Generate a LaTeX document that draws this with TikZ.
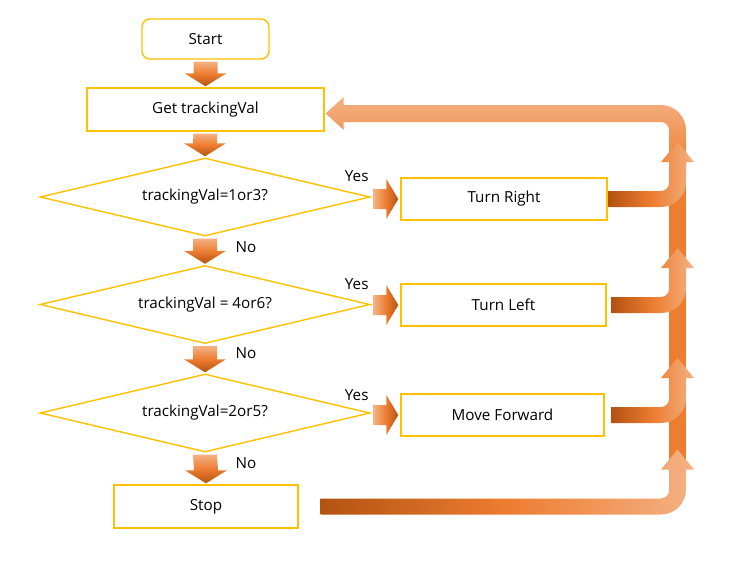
\documentclass[tikz,border=0pt]{standalone}
\usepackage{fontspec}
\setmainfont{Open Sans}
\usetikzlibrary{shapes.geometric,calc,positioning}

\definecolor{boxGold}{HTML}{FFC000}
\definecolor{orDark}{HTML}{B35311}
\definecolor{orMid}{HTML}{ED7D31}
\definecolor{orLight}{HTML}{F4B183}

\tikzset{
  flowbox/.style={draw=boxGold, line width=1.2pt, inner sep=0pt, font=\fontsize{13}{15}\selectfont},
  decision/.style={diamond, aspect=4.23, draw=boxGold, line width=1.2pt, inner sep=0pt, minimum width=9.9cm, minimum height=2.34cm, font=\fontsize{13}{15}\selectfont},
  answer/.style={inner sep=0pt, font=\fontsize{13}{15}\selectfont},
  downfill/.style={top color=orLight, bottom color=orDark, middle color=orMid},
  rightfill/.style={left color=orLight, right color=orDark, middle color=orMid},
  backfill/.style={left color=orDark, right color=orLight, middle color=orMid},
  loopfill/.style={top color=orLight, bottom color=orMid},
}

% block arrow going down, from node to node
\newcommand{\flowdown}[2]{%
  \shade[downfill] ($(#1.south)+(-12,2)$) -- ($(#1.south)+(12,2)$)
    -- ($(#2.north)+(12,-14)$) -- ($(#2.north)+(21,-14)$)
    -- ($(#2.north)+(0,-1)$) -- ($(#2.north)+(-21,-14)$)
    -- ($(#2.north)+(-12,-14)$) -- cycle;}

% block arrow going right, from node to node
\newcommand{\flowright}[2]{%
  \shade[rightfill] ($(#2.west -| #1.east)+(3,-10)$) -- ($(#2.west)+(-14,-10)$)
    -- ($(#2.west)+(-14,-20)$) -- ($(#2.west)+(-2,0)$)
    -- ($(#2.west)+(-14,20)$) -- ($(#2.west)+(-14,10)$)
    -- ($(#2.west -| #1.east)+(3,10)$) -- cycle;}

% bent arrow from a node into the trunk
\newcommand{\feedback}[2]{%
  \shade[backfill] ($(#1.east)+(#2,-8)$)
    -- ($(#1.east -| trunk)+(-16.5,-8)$) .. controls ($(#1.east -| trunk)+(-12.1,-8)$) and ($(#1.east -| trunk)+(-8.5,-11.6)$) .. ($(#1.east -| trunk)+(-8.5,-16)$)
    -- ($(#1.east -| trunk)+(-8.5,-37)$) -- ($(#1.east -| trunk)+(-16.5,-37)$)
    -- ($(#1.east -| trunk)+(0,-57)$) -- ($(#1.east -| trunk)+(16.5,-37)$)
    -- ($(#1.east -| trunk)+(8.5,-37)$) -- ($(#1.east -| trunk)+(8.5,-17)$)
    .. controls ($(#1.east -| trunk)+(8.5,-3.2)$) and ($(#1.east -| trunk)+(-2.7,8)$) .. ($(#1.east -| trunk)+(-16.5,8)$)
    -- ($(#1.east)+(#2,8)$) -- cycle;}

\begin{document}
\begin{tikzpicture}[x=0.03cm, y=-0.03cm]
    \useasboundingbox (0,0) rectangle (754,583);

    % Boxes
    \node[flowbox, rounded corners=0.24cm, minimum width=3.81cm, minimum height=1.2cm] (start) at (205.5,39) {Start};
    \node[flowbox, minimum width=7.11cm, minimum height=1.29cm] (get) at (205.5,109.5) {Get trackingVal};
    \node[decision] (d1) at (205,197) {trackingVal=1or3?};
    \node[decision] (d2) at (205,304.5) {trackingVal = 4or6?};
    \node[decision] (d3) at (205,413) {trackingVal=2or5?};
    \node[flowbox, minimum width=5.52cm, minimum height=1.29cm] (stop) at (206,506.5) {Stop};
    \node[flowbox, minimum width=6.18cm, minimum height=1.26cm] (right) at (504,199) {Turn Right};
    \node[flowbox, minimum width=6.15cm, minimum height=1.26cm] (left) at (503.5,305) {Turn Left};
    \node[flowbox, minimum width=6.09cm, minimum height=1.26cm] (fwd) at (502.5,415) {Move Forward};

    % Labels
    \node[answer] (yes1) at ($(d1.east)+(-14,-21)$) {Yes};
    \node[answer] (yes2) at ($(d2.east)+(-14,-20)$) {Yes};
    \node[answer] (yes3) at ($(d3.east)+(-14,-18)$) {Yes};
    \node[answer] (no1) at ($(d1.south)+(41,10)$) {No};
    \node[answer] (no2) at ($(d2.south)+(41,9)$) {No};
    \node[answer] (no3) at ($(d3.south)+(41,10)$) {No};

    % Down arrows
    \flowdown{start}{get}
    \flowdown{get}{d1}
    \flowdown{d1}{d2}
    \flowdown{d2}{d3}
    \flowdown{d3}{stop}

    % Yes arrows
    \flowright{d1}{right}
    \flowright{d2}{left}
    \flowright{d3}{fwd}

    % Loop back
    \coordinate (trunk) at (677.5,0);
    \fill[orMid] ($(get.east -| trunk)+(-8.5,50)$) rectangle ($(stop.east -| trunk)+(8.5,-45)$);
    \shade[loopfill] ($(get.east)+(1,4)$) -- ($(get.east)+(19,-12.5)$) -- ($(get.east)+(19,-4.5)$)
      -- ($(get.east -| trunk)+(-16.5,-4.5)$) .. controls ($(get.east -| trunk)+(-2.7,-4.5)$) and ($(get.east -| trunk)+(8.5,6.7)$) .. ($(get.east -| trunk)+(8.5,20.5)$)
      -- ($(get.east -| trunk)+(8.5,60.5)$) -- ($(get.east -| trunk)+(-8.5,60.5)$)
      -- ($(get.east -| trunk)+(-8.5,20.5)$) .. controls ($(get.east -| trunk)+(-8.5,16.1)$) and ($(get.east -| trunk)+(-12.1,12.5)$) .. ($(get.east -| trunk)+(-16.5,12.5)$)
      -- ($(get.east)+(19,12.5)$) -- ($(get.east)+(19,20.5)$) -- cycle;
    \feedback{right}{1}
    \feedback{left}{5}
    \feedback{fwd}{7}
    \feedback{stop}{22}

\end{tikzpicture}
\end{document}
